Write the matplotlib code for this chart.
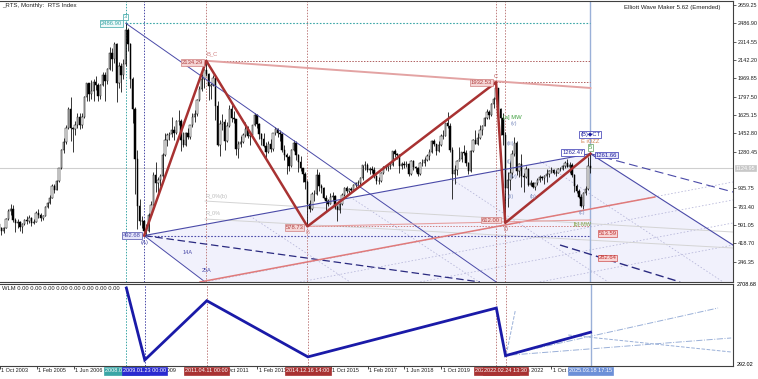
import numpy as np
import matplotlib
matplotlib.use('Agg')
import matplotlib.pyplot as plt
import matplotlib.transforms as mtransforms

plt.rcParams['font.family'] = ['Liberation Sans', 'DejaVu Sans']
plt.rcParams['font.size'] = 4.3

# RTS index, monthly bars from Oct 2003 to Mar 2025
first_open = 600
close_2003 = [567, 533, 567]
high_2003 = [620, 575, 575]
low_2003 = [520, 500, 520]
close_2004 = [648, 720, 742, 640, 612, 620, 574, 600, 638, 632, 656, 614]
high_2004 = [660, 740, 790, 780, 660, 650, 625, 610, 650, 680, 690, 665]
low_2004 = [560, 640, 690, 620, 530, 560, 540, 520, 590, 600, 610, 580]
close_2005 = [624, 706, 683, 658, 681, 761, 801, 849, 955, 925, 1008, 1125]
high_2005 = [650, 720, 740, 700, 690, 770, 810, 870, 980, 975, 1010, 1130]
low_2005 = [600, 620, 660, 630, 640, 680, 750, 790, 845, 890, 920, 1000]
close_2006 = [1300, 1370, 1500, 1680, 1500, 1490, 1530, 1610, 1530, 1610, 1790, 1922]
high_2006 = [1310, 1410, 1530, 1700, 1790, 1510, 1570, 1640, 1640, 1640, 1800, 1930]
low_2006 = [1120, 1270, 1350, 1490, 1380, 1280, 1440, 1500, 1490, 1500, 1600, 1760]
close_2007 = [1820, 1854, 1935, 1911, 1807, 1904, 2004, 1946, 2057, 2210, 2148, 2291]
high_2007 = [1930, 1950, 1960, 1990, 1930, 1920, 2030, 2030, 2070, 2260, 2250, 2310]
low_2007 = [1760, 1780, 1760, 1860, 1760, 1780, 1900, 1760, 1920, 2050, 2040, 2110]
close_2008 = [1927, 2084, 2000, 2108, 2426, 2290, 1962, 1680, 1210, 773, 630, 632]
high_2008 = [2300, 2120, 2110, 2150, 2486.9, 2440, 2300, 1980, 1700, 1300, 840, 680]
low_2008 = [1750, 1880, 1840, 1960, 2090, 2230, 1880, 1550, 880, 550, 590, 560]
close_2009 = [540, 534, 689, 784, 1063, 987, 1014, 1048, 1250, 1394, 1436, 1445]
high_2009 = [640, 600, 700, 820, 1090, 1180, 1040, 1070, 1270, 1460, 1460, 1470]
low_2009 = [492.68, 500, 530, 680, 780, 900, 870, 960, 1010, 1240, 1330, 1390]
close_2010 = [1486, 1456, 1572, 1573, 1387, 1340, 1460, 1420, 1527, 1604, 1632, 1770]
high_2010 = [1610, 1520, 1580, 1670, 1590, 1470, 1470, 1500, 1530, 1640, 1670, 1780]
low_2010 = [1420, 1390, 1450, 1530, 1290, 1320, 1330, 1400, 1400, 1510, 1560, 1620]
close_2011 = [1870, 1962, 2044, 2011, 1902, 1906, 1974, 1713, 1342, 1545, 1556, 1382]
high_2011 = [1900, 2010, 2060, 2134.29, 2020, 1930, 2000, 1980, 1760, 1580, 1630, 1590]
low_2011 = [1760, 1850, 1880, 1990, 1770, 1780, 1900, 1580, 1330, 1240, 1480, 1300]
close_2012 = [1521, 1681, 1600, 1587, 1309, 1350, 1376, 1437, 1489, 1431, 1436, 1527]
high_2012 = [1560, 1720, 1720, 1660, 1590, 1380, 1430, 1460, 1560, 1520, 1450, 1530]
low_2012 = [1370, 1510, 1560, 1550, 1250, 1220, 1320, 1360, 1420, 1410, 1340, 1420]
close_2013 = [1626, 1537, 1442, 1403, 1337, 1278, 1349, 1307, 1453, 1497, 1456, 1442]
high_2013 = [1640, 1630, 1550, 1460, 1460, 1370, 1380, 1400, 1460, 1510, 1500, 1480]
low_2013 = [1520, 1500, 1400, 1340, 1320, 1220, 1270, 1280, 1290, 1440, 1420, 1380]
close_2014 = [1301, 1247, 1226, 1144, 1296, 1366, 1246, 1183, 1125, 1074, 995, 791]
high_2014 = [1460, 1340, 1270, 1250, 1310, 1390, 1380, 1260, 1240, 1130, 1090, 1010]
low_2014 = [1280, 1200, 1070, 1100, 1140, 1290, 1200, 1090, 1100, 1000, 930, 578.73]
close_2015 = [741, 880, 880, 1057, 960, 941, 849, 813, 792, 859, 865, 757]
high_2015 = [830, 900, 920, 1120, 1090, 980, 950, 870, 840, 890, 900, 870]
low_2015 = [710, 730, 820, 870, 910, 890, 840, 720, 770, 790, 820, 740]
close_2016 = [731, 788, 876, 944, 912, 932, 922, 970, 990, 990, 1033, 1152]
high_2016 = [780, 800, 890, 950, 960, 940, 950, 980, 1000, 1010, 1040, 1160]
low_2016 = [630, 700, 780, 860, 890, 880, 900, 910, 950, 960, 950, 1010]
close_2017 = [1154, 1112, 1114, 1113, 1050, 1001, 1008, 1079, 1137, 1133, 1147, 1154]
high_2017 = [1190, 1170, 1140, 1150, 1140, 1060, 1040, 1090, 1150, 1160, 1160, 1180]
low_2017 = [1110, 1090, 1070, 1080, 1030, 980, 980, 1000, 1070, 1110, 1100, 1120]
close_2018 = [1283, 1261, 1250, 1143, 1163, 1154, 1165, 1067, 1192, 1133, 1127, 1069]
high_2018 = [1290, 1310, 1270, 1260, 1180, 1190, 1190, 1170, 1200, 1200, 1150, 1140]
low_2018 = [1150, 1230, 1210, 1080, 1120, 1130, 1140, 1050, 1060, 1110, 1090, 1050]
close_2019 = [1171, 1170, 1200, 1242, 1276, 1379, 1349, 1291, 1339, 1429, 1431, 1549]
high_2019 = [1180, 1210, 1230, 1260, 1310, 1390, 1400, 1350, 1380, 1450, 1480, 1550]
low_2019 = [1060, 1150, 1150, 1190, 1200, 1270, 1330, 1250, 1280, 1330, 1400, 1430]
close_2020 = [1519, 1300, 1070, 1104, 1195, 1212, 1275, 1271, 1175, 1101, 1291, 1387]
high_2020 = [1650, 1550, 1320, 1160, 1200, 1320, 1280, 1340, 1300, 1180, 1300, 1400]
low_2020 = [1500, 1280, 832, 980, 1060, 1190, 1180, 1250, 1150, 1070, 1090, 1280]
close_2021 = [1356, 1409, 1485, 1522, 1596, 1654, 1626, 1730, 1780, 1878, 1678, 1596]
high_2021 = [1480, 1460, 1530, 1530, 1610, 1680, 1670, 1740, 1790, 1932.53, 1880, 1690]
low_2021 = [1350, 1340, 1400, 1440, 1520, 1590, 1590, 1620, 1690, 1770, 1660, 1440]
close_2022 = [1434, 936, 1015, 1084, 1261, 1361, 1099, 1167, 1055, 1042, 1118, 971]
high_2022 = [1640, 1470, 1090, 1190, 1300, 1420, 1380, 1170, 1260, 1080, 1150, 1130]
low_2022 = [1340, 612, 760, 920, 1030, 1240, 1060, 1040, 950, 900, 1030, 960]
close_2023 = [990, 948, 983, 1011, 1041, 1037, 1048, 1067, 1095, 1111, 1083, 1083]
high_2023 = [1010, 1000, 990, 1030, 1060, 1050, 1060, 1120, 1110, 1140, 1120, 1110]
low_2023 = [960, 940, 920, 970, 1000, 1010, 980, 1000, 1040, 1080, 1070, 1050]
close_2024 = [1114, 1119, 1144, 1175, 1140, 1157, 1061, 954, 911, 855, 773, 893]
high_2024 = [1130, 1140, 1160, 1190, 1210, 1180, 1170, 1070, 980, 930, 880, 900]
low_2024 = [1080, 1100, 1110, 1130, 1140, 1080, 1040, 900, 890, 850, 760, 740]
close_2025 = [934, 1147, 1124.95]
high_2025 = [960, 1230, 1261.66]
low_2025 = [870, 920, 1080]

closes = (close_2003 + close_2004 + close_2005 + close_2006 + close_2007 + close_2008
          + close_2009 + close_2010 + close_2011 + close_2012 + close_2013 + close_2014
          + close_2015 + close_2016 + close_2017 + close_2018 + close_2019 + close_2020
          + close_2021 + close_2022 + close_2023 + close_2024 + close_2025)
highs = (high_2003 + high_2004 + high_2005 + high_2006 + high_2007 + high_2008
         + high_2009 + high_2010 + high_2011 + high_2012 + high_2013 + high_2014
         + high_2015 + high_2016 + high_2017 + high_2018 + high_2019 + high_2020
         + high_2021 + high_2022 + high_2023 + high_2024 + high_2025)
lows = (low_2003 + low_2004 + low_2005 + low_2006 + low_2007 + low_2008
        + low_2009 + low_2010 + low_2011 + low_2012 + low_2013 + low_2014
        + low_2015 + low_2016 + low_2017 + low_2018 + low_2019 + low_2020
        + low_2021 + low_2022 + low_2023 + low_2024 + low_2025)
opens = [first_open] + closes[:-1]
last_price = 1124.95

# wave pivots (bar index from Oct 2003, price)
wave_month = [55, 63, 90, 134, 216, 220, 257]
wave_price = [2486.90, 492.68, 2134.29, 578.73, 1932.53, 612.00, 1261.66]

price_ticks = [2659.25, 2486.90, 2314.55, 2142.20, 1969.85, 1797.50, 1625.15,
               1452.80, 1280.45, 935.75, 763.40, 591.05, 418.70, 246.35]

# time labels the chart shows (others are hidden under the marker boxes)
time_tick_month = [0, 16, 32, 64, 96, 112, 144, 160, 176, 192, 224, 240]
time_tick_label = ['1 Oct 2003', '1 Feb 2005', '1 Jun 2006', '1 Feb 2009',
                   '1 Oct 2011', '1 Feb 2013', '1 Oct 2015',
                   '1 Feb 2017', '1 Jun 2018', '1 Oct 2019', '1 Jun 2022',
                   '1 Oct 2023']
mark_label = ['2008.05.19 00:00', '2009.01.23 00:00', '2011.04.11 00:00', '2014.12.16 14:00',
              '2021.10.26 00:00', '2022.02.24 13:30', '2025.03.18 17:15']

# drawn objects of the wave tool (month, price)
fan_from_top = [(55, 2486.90), (216, 57)]
a_down = [(63, 492.68), (89.5, 57)]
e_down = [(257, 1261.66), (319, 404)]
e_dash = [(257, 1261.66), (319, 902)]
a_dash = [(63, 492.68), (209, 57)]
low_dash = [(243.8, 404), (296, 57)]
rising_grid = [[(89.5, 57), (319, 996)], [(130.8, 57), (319, 827)],
               [(183, 57), (319, 611)], [(235, 57), (319, 404)]]
falling_grid = [[(109, 677), (152.5, 57)], [(152.5, 856), (208.6, 57)],
                [(196, 1033), (264.7, 57)], [(235.1, 1194), (314.7, 57)]]
grey_lines = [[(89.5, 817), (319, 526)], [(89.5, 648), (319, 376)]]
salmon_top = [(90, 2134.29), (257, 1879)]
salmon_rise = [(87.3, 57), (285, 855)]
salmon_flat = [(134, 578.73), (257, 640)]
target_prices = [513.59, 282.64]
sub_lines = [[(220.3, 631), (224.3, 1878)], [(220.3, 631), (312.5, 1933)],
             [(247.3, 1185), (318.2, 714)], [(222.5, 631), (318.2, 1102)]]

NAVY = '#4a4aa8'
BROWN = '#a83232'
SALMON = '#e3a3a3'
TEAL = '#3aa6a6'

fig = plt.figure(figsize=(7.58, 3.79), dpi=100)
ax = fig.add_axes([0, 1 - 282/379, 733/758, 281/379])
ax2 = fig.add_axes([0, 1 - 366/379, 733/758, 82/379])
ax.set_xlim(0.35, 319.0)
ax.set_ylim(56.6, 2695.8)
ax2.set_xlim(0.35, 319.0)
ax2.set_ylim(326, 2598)

for a in (ax, ax2):
    a.spines['left'].set_visible(False)
    for s in ('top', 'right', 'bottom'):
        a.spines[s].set_color('#404040')
        a.spines[s].set_linewidth(0.8)

# shaded channel
poly_m = [wave_month[1], wave_month[6], e_down[1][0], 319, a_down[1][0]]
poly_p = [wave_price[1], wave_price[6], e_down[1][1], 57, a_down[1][1]]
ax.fill(poly_m, poly_p, color='#f1f1fc', zorder=0, lw=0)

def seg(a, pts, **kw):
    a.plot([pts[0][0], pts[1][0]], [pts[0][1], pts[1][1]], **kw)

ax.axhline(last_price, color='#cfcfcf', lw=0.8, zorder=1)
for g in rising_grid + falling_grid:
    seg(ax, g, color='#b4b4d8', lw=0.55, ls=(0, (2, 2.5)), zorder=1)
for g in grey_lines:
    seg(ax, g, color='#d4d4d4', lw=0.7, zorder=1)

# candles
m = np.arange(len(closes))
o = np.array(opens, float)
c = np.array(closes, float)
hi = np.maximum(np.array(highs, float), np.maximum(o, c))
lo = np.minimum(np.array(lows, float), np.minimum(o, c))
up = c >= o
ax.vlines(m, lo, hi, color='black', lw=0.55, zorder=2)
ax.bar(m[up], (c - o)[up], bottom=o[up], width=0.6, color='white',
       edgecolor='black', lw=0.35, zorder=2.1)
ax.bar(m[~up], (o - c)[~up], bottom=c[~up], width=0.6, color='black',
       edgecolor='black', lw=0.35, zorder=2.1)

# horizontal levels
dots = (0, (1.5, 1.5))
ax.plot([wave_month[0], 257], [wave_price[0]] * 2, color=TEAL, lw=0.8, ls=dots, zorder=3)
ax.plot([wave_month[2], 257], [wave_price[2]] * 2, color='#b06060', lw=0.7, ls=dots, zorder=3)
ax.plot([wave_month[4], 257], [wave_price[4]] * 2, color='#b06060', lw=0.7, ls=dots, zorder=3)
ax.plot([wave_month[3], 257], [wave_price[3]] * 2, color='#d08080', lw=0.7, ls=dots, zorder=3)
ax.plot([wave_month[1], 257], [wave_price[1]] * 2, color=NAVY, lw=0.8, ls=dots, zorder=3)

# vertical markers
vcols = [TEAL, NAVY, '#c08080', '#c08080', '#c08080', '#c08080']
for a in (ax, ax2):
    for mm, col in zip(wave_month[:6], vcols):
        a.axvline(mm, color=col, lw=0.7, ls=dots, zorder=1)
    a.axvline(257, color='#9ab0d8', lw=1.0, zorder=1)

# fan / channel lines
seg(ax, fan_from_top, color=NAVY, lw=0.7, zorder=3)
seg(ax, a_down, color=NAVY, lw=0.7, zorder=3)
seg(ax, [(wave_month[1], wave_price[1]), (wave_month[6], wave_price[6])], color=NAVY, lw=0.8, zorder=3)
seg(ax, e_down, color=NAVY, lw=0.8, zorder=3)
seg(ax, e_dash, color=NAVY, lw=0.8, ls=(0, (8, 4)), zorder=3)
seg(ax, a_dash, color='#2a2a80', lw=0.9, ls=(0, (6, 3)), zorder=3)
seg(ax, low_dash, color='#2a2a80', lw=1.0, ls=(0, (6, 3)), zorder=3)
seg(ax, salmon_top, color=SALMON, lw=1.4, zorder=3)
seg(ax, salmon_rise, color='#e07a7a', lw=1.1, zorder=3)
seg(ax, salmon_flat, color='#e7a0a0', lw=0.8, zorder=3)

# wave zigzag
ax.plot(wave_month[1:], wave_price[1:], color=BROWN, lw=1.8, zorder=4)

def box(a, x, y, s, fc, ec, tc, dx=0, dy=0, ha='center', va='center', size=4.2):
    a.annotate(s, (x, y), xytext=(dx, dy), textcoords='offset points', ha=ha, va=va,
               color=tc, fontsize=size, zorder=7,
               bbox=dict(boxstyle='square,pad=0.15', fc=fc, ec=ec, lw=0.5))

def lab(a, x, y, s, col, dx=0, dy=0, ha='center', va='center', size=4.2):
    a.annotate(s, (x, y), xytext=(dx, dy), textcoords='offset points', ha=ha, va=va,
               color=col, fontsize=size, zorder=7)

wm, wp = wave_month, wave_price
box(ax, wm[0], wp[0], '%.2f' % wp[0], '#eef9f9', TEAL, TEAL, dx=-2.5, ha='right')
box(ax, wm[0], wp[0], '3', 'white', TEAL, TEAL, dy=4.5)
box(ax, wm[1], wp[1], '%.2f' % wp[1], '#e6e6fa', NAVY, NAVY, dx=-2.5, ha='right')
lab(ax, wm[1], wp[1], '(A)', NAVY, dy=-5)
box(ax, wm[2], wp[2], '%.2f' % wp[2], '#f5d5d5', '#d08080', '#b04040', dx=-2, dy=-1, ha='right')
lab(ax, wm[2], wp[2], 'B_C', '#d08080', dx=0, dy=5, ha='left')
box(ax, wm[3], wp[3], '%.2f' % wp[3], '#f5d5d5', '#d08080', '#b04040', dx=-3, dy=-1, ha='right')
lab(ax, wm[3], wp[3], 'B', '#d08080', dy=-4.5)
box(ax, wm[4], wp[4], '%.2f' % wp[4], '#f5d5d5', '#d08080', '#b04040', dx=-3, ha='right')
lab(ax, wm[4], wp[4], 'C', '#c06060', dy=4)
box(ax, wm[5], wp[5], '%.2f' % wp[5], '#f5d5d5', '#d08080', '#b04040', dx=-4, dy=2, ha='right')
lab(ax, wm[5], wp[5], 'D', '#c06060', dy=-4.5)
box(ax, wm[6], wp[6], '1262.47', 'white', '#3030b0', '#2020a0', dx=-5, dy=1, ha='right')
box(ax, wm[6], wp[6], '%.2f' % wp[6], '#e6e6fa', '#3030b0', '#2020a0', dx=4, dy=-1, ha='left')
box(ax, wm[6], wp[6], '5', 'white', '#60a060', '#40a040', dy=4.5)
lab(ax, wm[6], wp[6], 'E iOZZ', '#d08050', dy=8.5)
box(ax, wm[6], wp[6], '(B)\u25c6CT', 'white', '#3030b0', '#2020a0', dy=14)

wave_small = [(223.8, 1541, '(v)'), (222.1, 1353, '(iii)'), (221.7, 1184, '(i)'),
              (223.4, 1052, '(iv)'), (222.5, 864, '(ii)'), (232, 864, '(b)'), (253.4, 705, '(c)')]
for x, y, s in wave_small:
    ax.text(x, y, s, color='#7f8fc0', ha='center', va='center', fontsize=4.0, zorder=7)
ax.text(219, 1597, '[a] MW', color='#40a040', ha='left', va='center', fontsize=4.2, zorder=7)
ax.text(253.8, 601, '[b]-MW', color='#80a040', ha='center', va='center', fontsize=4.0, zorder=7)
ax.text(89.5, 855, 'R_0%(b)', color='#bbbbbb', ha='left', va='center', fontsize=4.0, zorder=7)
ax.text(89.5, 705, 'R_0%', color='#bbbbbb', ha='left', va='center', fontsize=4.0, zorder=7)
ax.text(79.9, 329, '14A', color=NAVY, ha='left', va='center', fontsize=4.0, zorder=7)
ax.text(88.2, 160, '25A', color=NAVY, ha='left', va='center', fontsize=4.0, zorder=7)
for tp in target_prices:
    box(ax, 260.5, tp, '%.2f' % tp, '#f8d4d4', '#d05050', '#c03030', ha='left')

# price axis
ax.yaxis.tick_right()
ax.set_yticks(price_ticks)
ax.set_yticklabels(['%.2f' % v for v in price_ticks])
ax.tick_params(axis='y', direction='out', length=2.5, width=0.5, pad=1.0,
               labelsize=4.0, colors='#202020')
ax.tick_params(axis='x', bottom=False, labelbottom=False)
ax.text(1.0 + 3/733, last_price, '%.2f' % last_price,
        transform=mtransforms.blended_transform_factory(ax.transAxes, ax.transData),
        ha='left', va='center', color='white', fontsize=4.0, zorder=8,
        bbox=dict(boxstyle='square,pad=0.12', fc='#c8c8c8', ec='#c8c8c8', lw=0.5))

ax.text(2/733, 1 - 5/281, '_RTS, Monthly:  RTS Index', transform=ax.transAxes,
        ha='left', va='center', fontsize=4.4, color='#202020')
ax.text(720/733, 1 - 6/281, 'Elliott Wave Maker 5.62 (Emended)', transform=ax.transAxes,
        ha='right', va='center', fontsize=4.4, color='#202020')

# sub window
ax2.plot(wave_month, wave_price, color='#1a1aa8', lw=2.0, zorder=4, solid_joinstyle='miter')
for i, g in enumerate(sub_lines):
    seg(ax2, g, color='#9ab0d8', lw=0.7, ls='--' if i % 2 == 0 else '-.', zorder=3)
ax2.set_yticks([])
ax2.text(2/733, 1 - 5/82, 'WLM 0.00 0.00 0.00 0.00 0.00 0.00 0.00 0.00', transform=ax2.transAxes,
         ha='left', va='center', fontsize=4.2, color='#202020')
ax2.text(1.0 + 4/733, 1 - 1/82, '2708.68', transform=ax2.transAxes, ha='left', va='center', fontsize=4.0)
ax2.text(1.0 + 4/733, 2/82, '292.02', transform=ax2.transAxes, ha='left', va='center', fontsize=4.0)

# time axis
ax2.set_xticks(time_tick_month)
ax2.set_xticklabels([])
ax2.tick_params(axis='x', direction='out', length=2, width=0.5)
tt = mtransforms.blended_transform_factory(ax2.transData, ax2.transAxes)
for mm, s in zip(time_tick_month, time_tick_label):
    ax2.text(mm + 0.6, -5/82, s, transform=tt, ha='left', va='center', fontsize=4.0,
             color='#202020', zorder=5)
mark_fc = [TEAL, '#2a2ad0', BROWN, BROWN, BROWN, BROWN, '#6c90d8']
for mm, s, fc in zip(wave_month, mark_label, mark_fc):
    ax2.text(mm, -5/82, s, transform=tt, ha='center', va='center', fontsize=4.0,
             color='white', zorder=6,
             bbox=dict(boxstyle='square,pad=0.2', fc=fc, ec=fc, lw=0.5))

fig.savefig('out.png', dpi=100)
